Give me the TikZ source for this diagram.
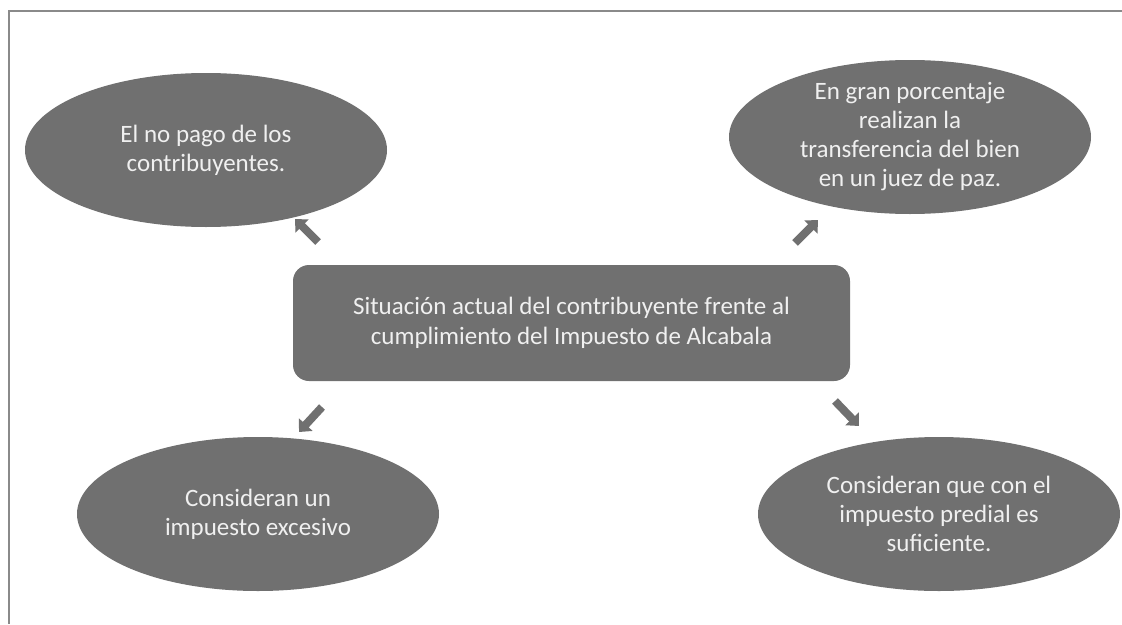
\documentclass[tikz,border=0pt]{standalone}
\usepackage{fontspec}
\setmainfont{Carlito}
\usetikzlibrary{shapes.geometric,arrows.meta}
\definecolor{boxgray}{HTML}{707070}
\definecolor{txtgray}{HTML}{F0F0F0}
\definecolor{framegray}{HTML}{8A8A8A}
\begin{document}
\begin{tikzpicture}[x=1pt,y=-1pt,
  bubble/.style={ellipse,fill=boxgray,draw=none,minimum width=362pt,minimum height=154pt,inner sep=0pt,
    align=center,text=txtgray,font=\fontsize{25}{29}\selectfont},
  centerbox/.style={rectangle,rounded corners=16pt,fill=boxgray,draw=none,minimum width=557pt,minimum height=116pt,
    align=center,text=txtgray,font=\fontsize{25}{30}\selectfont},
  blockarrow/.style={draw=boxgray,line width=8pt,-{Triangle[width=18pt,length=10pt]}}]
\useasboundingbox (0,0) rectangle (1122,624);
\fill[white] (0,0) rectangle (1122,624);
\coordinate (frametl) at (9,11);
\coordinate (frametr) at (1122,11);
\coordinate (framebl) at (9,624);
\draw[framegray,line width=1.5pt] (frametr) -- (frametl) -- (framebl);

\node[centerbox] (c) at (571.5,323) {Situación actual del contribuyente frente al\\cumplimiento del Impuesto de Alcabala};
\node[bubble] (tl) at (206,150) {El no pago de los\\contribuyentes.};
\node[bubble] (tr) at (910,137) {En gran porcentaje\\realizan la\\transferencia del bien\\en un juez de paz.};
\node[bubble] (bl) at (258,514) {Consideran un\\impuesto excesivo};
\node[bubble] (br) at (939,514) {Consideran que con el\\impuesto predial es\\suficiente.};

\coordinate (a1s) at (318,242);
\coordinate (a1e) at (295,219);
\coordinate (a2s) at (795,243);
\coordinate (a2e) at (818,220);
\coordinate (a3s) at (322,407);
\coordinate (a3e) at (299,432);
\coordinate (a4s) at (835,401);
\coordinate (a4e) at (859,426);
\draw[blockarrow] (a1s) -- (a1e);
\draw[blockarrow] (a2s) -- (a2e);
\draw[blockarrow] (a3s) -- (a3e);
\draw[blockarrow] (a4s) -- (a4e);
\end{tikzpicture}
\end{document}
